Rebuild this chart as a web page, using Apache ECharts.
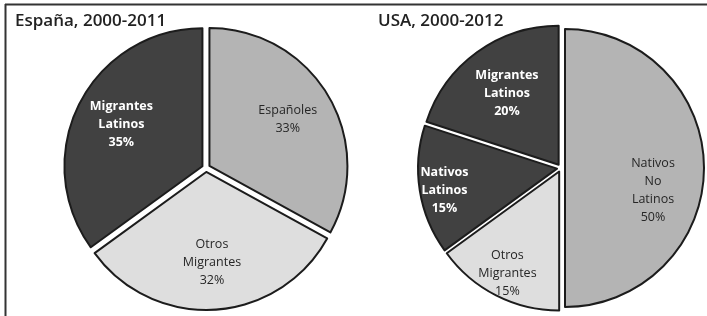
<!DOCTYPE html>
<html>
<head>
<meta charset="utf-8">
<script src="https://cdn.jsdelivr.net/npm/echarts@6/dist/echarts.min.js"></script>
<style>
  html, body { margin: 0; padding: 0; background: #fff; }
  #chart { width: 707px; height: 316px; }
</style>
</head>
<body>
<div id="chart"></div>
<script>
// España, 2000-2011
const spainNames = ['Españoles', 'Otros\nMigrantes', 'Migrantes\nLatinos'];
const spainValues = [33, 32, 35];
const spainColors = ['#b4b4b4', '#dedede', '#414141'];

// USA, 2000-2012
const usaNames = ['Nativos\nNo\nLatinos', 'Otros\nMigrantes', 'Nativos\nLatinos', 'Migrantes\nLatinos'];
const usaValues = [50, 15, 15, 20];
const usaColors = ['#b4b4b4', '#dedede', '#414141', '#414141'];

const titles = ['España, 2000-2011', 'USA, 2000-2012'];

const FONT = '"Open Sans", "Noto Sans", sans-serif';

function isDark(c) { return c === '#414141'; }

function slices(names, values, colors) {
  return names.map(function (n, i) {
    return {
      name: n, value: values[i], selected: true,
      itemStyle: { color: colors[i] }
    };
  });
}

function labelItems(names, values, colors, showIdx) {
  return names.map(function (n, i) {
    const dark = isDark(colors[i]);
    return {
      name: n, value: values[i],
      label: {
        show: showIdx.indexOf(i) >= 0,
        color: dark ? '#ffffff' : '#262626',
        fontWeight: dark ? 'bold' : 'normal'
      }
    };
  });
}

function piePart(center, r, names, values, colors) {
  return {
    type: 'pie',
    center: center,
    radius: [0, r],
    startAngle: 90,
    clockwise: true,
    selectedMode: 'multiple',
    selectedOffset: 4,
    silent: true,
    label: { show: false },
    labelLine: { show: false },
    itemStyle: { borderColor: '#1c1c1c', borderWidth: 2 },
    select: { itemStyle: { borderColor: '#1c1c1c', borderWidth: 2 } },
    emphasis: { disabled: true },
    data: slices(names, values, colors)
  };
}

// nudge: optional vertical shift per slice label
function labelPart(center, r, names, values, colors, showIdx, nudge) {
  return {
    type: 'pie',
    center: center,
    radius: [0, r],
    startAngle: 90,
    clockwise: true,
    silent: true,
    itemStyle: { color: 'rgba(0,0,0,0)', borderWidth: 0 },
    labelLine: { show: false },
    emphasis: { disabled: true },
    label: {
      position: 'inside',
      formatter: '{b}\n{c}%',
      fontFamily: FONT,
      fontSize: 12.5,
      lineHeight: 18,
      align: 'center'
    },
    labelLayout: function (p) {
      return { dy: (nudge && nudge[p.dataIndex]) || 0 };
    },
    data: labelItems(names, values, colors, showIdx)
  };
}

const chart = echarts.init(document.getElementById('chart'), null, { renderer: 'canvas' });

const titleStyle = { fontFamily: FONT, fontSize: 17, fontWeight: 600, color: '#222' };

chart.setOption({
  animation: false,
  backgroundColor: '#ffffff',
  title: [
    { text: titles[0], left: 10, top: 8, textStyle: titleStyle },
    { text: titles[1], left: 373, top: 8, textStyle: titleStyle }
  ],
  graphic: [
    { type: 'line', shape: { x1: 5, y1: 4.5, x2: 707, y2: 4.5 },
      style: { stroke: '#333', lineWidth: 2 }, silent: true },
    { type: 'line', shape: { x1: 5.5, y1: 4, x2: 5.5, y2: 316 },
      style: { stroke: '#333', lineWidth: 2 }, silent: true }
  ],
  series: [
    piePart([206, 168], 138, spainNames, spainValues, spainColors),
    labelPart([206, 168], 184, spainNames, spainValues, spainColors, [0, 1, 2]),
    piePart([561, 168], 139, usaNames, usaValues, usaColors),
    labelPart([561, 168], 178, usaNames, usaValues, usaColors, [0, 3], { 0: 22 }),
    labelPart([561, 168], 230, usaNames, usaValues, usaColors, [1, 2], { 2: 4 })
  ]
});
</script>
</body>
</html>
